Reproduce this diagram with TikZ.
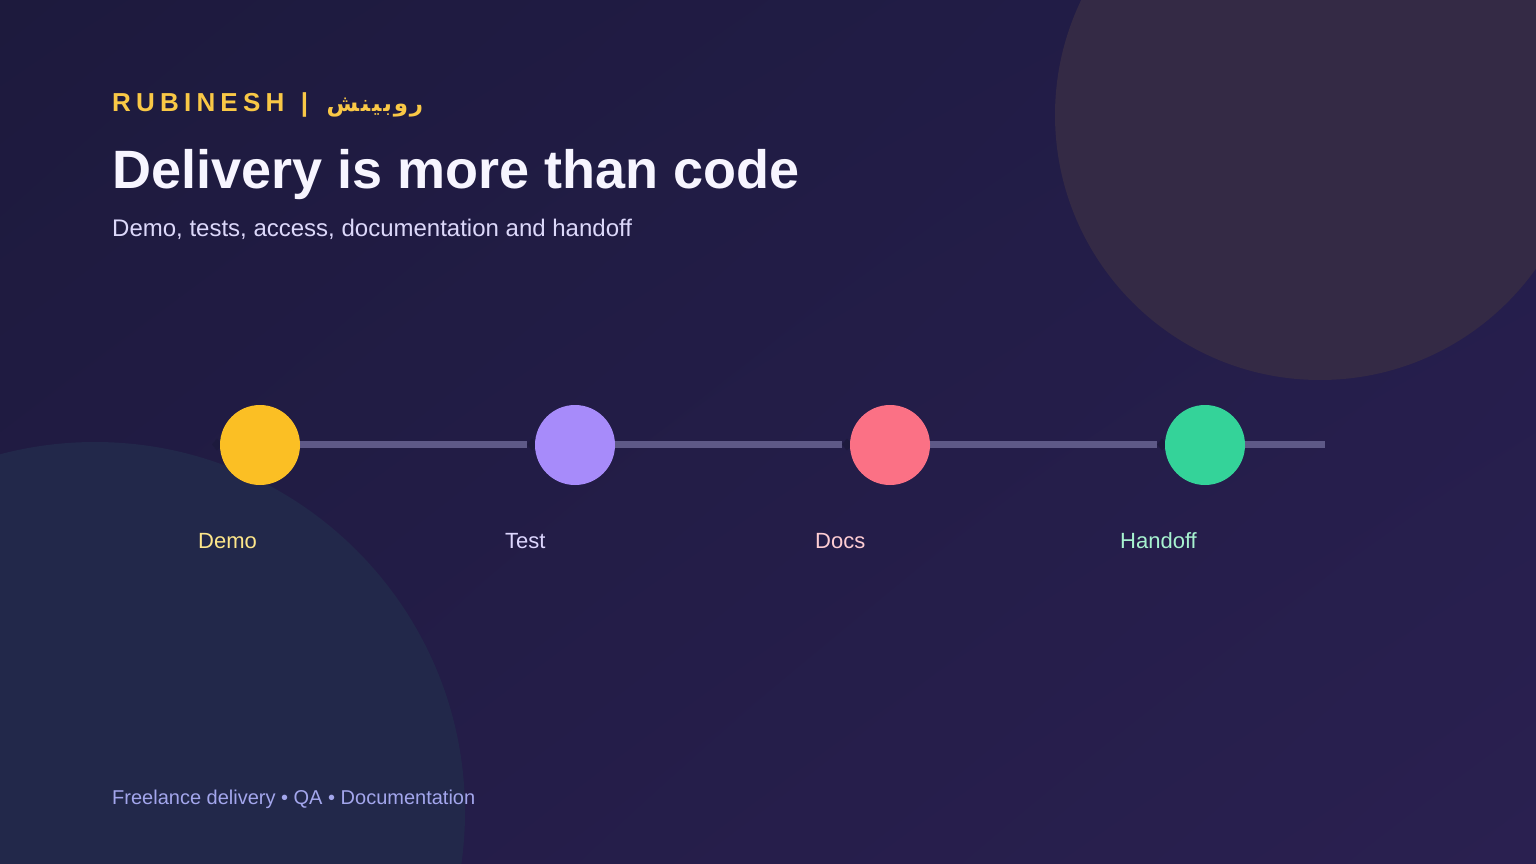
\documentclass[tikz,border=0pt]{standalone}
\usepackage{fontspec}
\setmainfont{Liberation Sans}
\newfontfamily\arabicfont[Script=Arabic,LetterSpace=8]{DejaVu Sans}
\newfontfamily\spacedfont[LetterSpace=20]{Liberation Sans}
\TeXXeTstate=1
\usetikzlibrary{arrows.meta,positioning,shadings}

\definecolor{bgtl}{HTML}{1D1A3D}
\definecolor{bgtr}{HTML}{231D4A}
\definecolor{bgbl}{HTML}{221C46}
\definecolor{bgbr}{HTML}{2A2050}
\definecolor{blobwarm}{HTML}{342A45}
\definecolor{blobcool}{HTML}{22284A}
\definecolor{gold}{HTML}{F9C846}
\definecolor{titlewhite}{HTML}{F7F5FF}
\definecolor{sublilac}{HTML}{DCD8FA}
\definecolor{trackgrey}{HTML}{5E5987}
\definecolor{footblue}{HTML}{A3A6EC}
\definecolor{demoyellow}{HTML}{FBBF24}
\definecolor{testviolet}{HTML}{A78BFA}
\definecolor{docsrose}{HTML}{FB7185}
\definecolor{handgreen}{HTML}{34D399}
\definecolor{demotext}{HTML}{FDE68A}
\definecolor{testtext}{HTML}{DDD6FE}
\definecolor{docstext}{HTML}{FECDD3}
\definecolor{handtext}{HTML}{A7F3D0}

\tikzstyle{stepdot}=[circle, inner sep=0pt, minimum size=80pt]
\tikzstyle{steplabel}=[anchor=base west, inner sep=0pt, font=\fontsize{22}{26}\selectfont]
\tikzstyle{track}=[line width=7pt, draw=trackgrey, {Straight Barb[length=3pt,width=7pt,color=bgtl]}-]
\newcommand{\stepdot}{\node[stepdot]}

\begin{document}
\begin{tikzpicture}[x=1pt, y=-1pt]
            % backdrop
            \useasboundingbox (0,0) rectangle (1536,864);
            \shade[upper left=bgtl, upper right=bgtr, lower left=bgbl, lower right=bgbr] (0,0) rectangle (1536,864);
            \begin{scope}
            \clip (0,0) rectangle (1536,864);
            \fill[blobwarm] (1320,115) circle (265);
            \fill[blobcool] (95,812) circle (370);
            \end{scope}

            % heading
            \node[anchor=base west, inner sep=0pt, text=gold, font={\spacedfont\bfseries\fontsize{26}{32}\selectfont}] (brand) at (112,112)
              {RUBINESH\hspace{4pt} |\hspace{6pt} {\arabicfont\fontsize{23}{28}\selectfont\beginR روبينش\endR}};
            \node[anchor=base west, inner sep=0pt, text=titlewhite, font={\bfseries\fontsize{54}{64}\selectfont}] (title) at (112,188) {Delivery is more than code};
            \node[anchor=base west, inner sep=0pt, text=sublilac, font={\fontsize{24}{28}\selectfont}] (subtitle) at (112,236) {Demo, tests, access, documentation and handoff};

            % track
            \coordinate (demoin) at (212,444.5);
            \coordinate (testin) at (527,444.5);
            \coordinate (docsin) at (842,444.5);
            \coordinate (handin) at (1157,444.5);
            \coordinate (trackend) at (1325,444.5);
            \draw[track] (demoin) -- (testin);
            \draw[track] (testin) -- (docsin);
            \draw[track] (docsin) -- (handin);
            \draw[track] (handin) -- (trackend);

            % steps
            \stepdot[fill=demoyellow] (demo) at (260,445) {};
            \stepdot[fill=testviolet] (test) at (575,445) {};
            \stepdot[fill=docsrose] (docs) at (890,445) {};
            \stepdot[fill=handgreen] (handoff) at (1205,445) {};

            \node[steplabel, text=demotext] (demolabel) at (198,548) {Demo};
            \node[steplabel, text=testtext] (testlabel) at (505,548) {Test};
            \node[steplabel, text=docstext] (docslabel) at (815,548) {Docs};
            \node[steplabel, text=handtext] (handofflabel) at (1120,548) {Handoff};

            % footer
            \node[anchor=base west, inner sep=0pt, text=footblue, font={\fontsize{20}{24}\selectfont}] (footer) at (112,804)
              {Freelance delivery • QA • Documentation};
        \end{tikzpicture}
\end{document}
